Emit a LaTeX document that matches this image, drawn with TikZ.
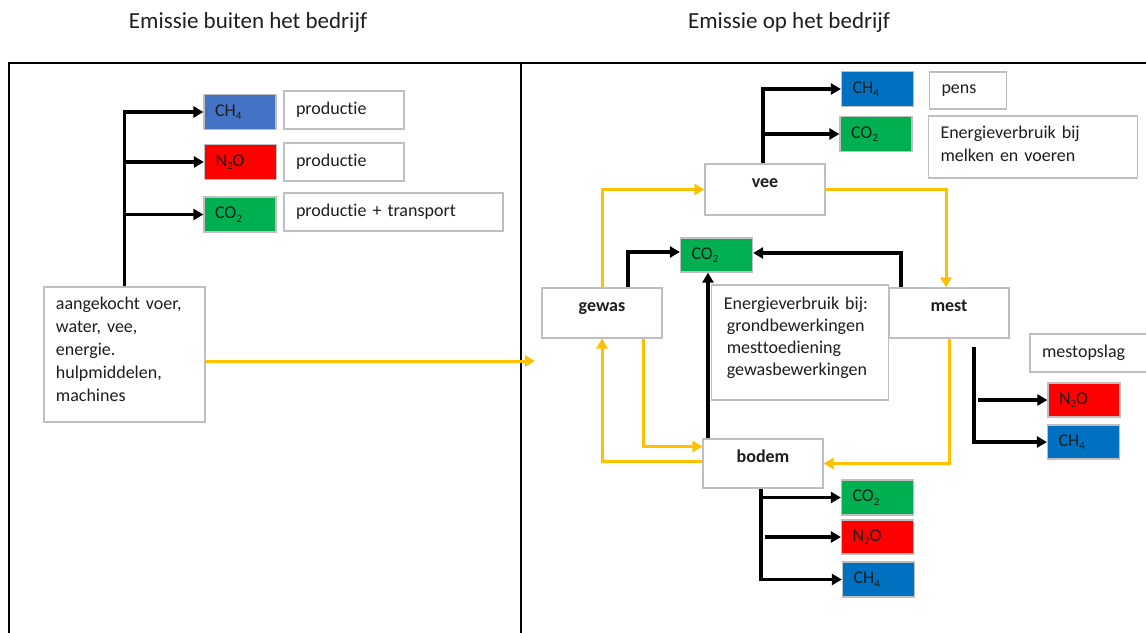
\documentclass[tikz,border=0pt]{standalone}
\usepackage{fontspec}
\setmainfont{Carlito}[Ligatures=NoCommon]
\usetikzlibrary{arrows.meta}
\definecolor{boxline}{HTML}{BFBFBF}
\definecolor{ylw}{HTML}{FFC000}
\definecolor{lblue}{HTML}{4472C4}
\definecolor{dblue}{HTML}{0070C0}
\definecolor{gred}{HTML}{FF0000}
\definecolor{ggreen}{HTML}{00B050}
\definecolor{ink}{HTML}{1E1E1E}
\newcommand{\gsub}[1]{\raisebox{-3.5pt}{\fontsize{11}{11}\selectfont #1}}
\tikzset{
  base/.style={draw=boxline, line width=1.2pt, inner sep=0pt, text=ink,
    font=\fontsize{18}{23}\selectfont},
  gas/.style={base, fill=#1, minimum height=35pt, text width=50pt,
    inner xsep=11pt, align=left},
  note/.style={base, fill=white, align=left, inner xsep=12pt},
  stage/.style={base, fill=white, minimum width=120pt, inner ysep=0pt,
    text height=23pt, font=\fontsize{18}{23}\selectfont\bfseries},
  heading/.style={text=ink, font=\fontsize{23}{28}\selectfont},
  panel/.style={draw=black, line width=2pt},
  arr/.style={draw=black, line width=3.2pt, -{Triangle[length=10pt,width=11pt]}},
  yarr/.style={draw=ylw, line width=3pt, -{Triangle[length=10pt,width=11pt]}}
}
\begin{document}
\begin{tikzpicture}[x=1pt,y=-1pt]
\useasboundingbox (0,0) rectangle (1146,632);

% headings and panel frame
\node[heading] (hout) at (248,22) {Emissie buiten het bedrijf};
\node[heading] (hin) at (789,22) {Emissie op het bedrijf};
\draw[panel] (1150,63) -- (9,63) -- (9,640);
\draw[panel] (521,63) -- (521,640);

% ---- emissions outside the farm ----
\node[gas=lblue] (ch4L) at (240,112) {CH\gsub{4}};
\node[gas=gred] (n2oL) at (240.5,162) {N\gsub{2}O};
\node[gas=ggreen] (co2L) at (240,214.5) {CO\gsub{2}};
\node[note, text width=96pt, minimum height=38pt] (prod1) at (344,110) {productie};
\node[note, text width=96pt, minimum height=38pt] (prod2) at (344,162) {productie};
\node[note, text width=195pt, minimum height=38pt] (prodT) at (393.5,212) {productie + transport};
\node[note, text width=137pt, inner ysep=0pt, text height=22pt, text depth=113pt] (buy)
  at (124.4,354.5) {aangekocht voer,\\water, vee,\\energie.\\hulpmiddelen,\\machines};
\coordinate (entry) at (535,361);

\draw[arr] (buy.north) |- (ch4L.west);
\draw[arr] (buy.north |- n2oL.west) -- (n2oL.west);
\draw[arr] (buy.north |- co2L.west) -- (co2L.west);
\draw[yarr] ([yshift=-6.5pt]buy.east) -- (entry);

% ---- emissions on the farm ----
\node[gas=dblue] (ch4V) at (877.5,89) {CH\gsub{4}};
\node[gas=ggreen] (co2V) at (876,134) {CO\gsub{2}};
\node[note, text width=53pt, minimum height=37pt] (pens) at (968,90.5) {pens};
\node[note, text width=185pt, inner ysep=0pt, text height=22pt, text depth=40pt] (melk)
  at (1033,147) {Energieverbruik bij\\melken en voeren};

\node[stage, text depth=28pt] (vee) at (765,189.5) {vee};
\node[gas=ggreen, minimum height=34pt] (co2M) at (716.5,255) {CO\gsub{2}};
\node[stage, text depth=27pt] (gewas) at (602,313) {gewas};
\node[stage, text depth=27pt] (mest) at (949,313) {mest};
\node[note, text width=153pt, inner ysep=0pt, text height=24pt, text depth=91pt,
  font=\fontsize{18}{22}\selectfont] (energy) at (800.3,342.5)
  {Energieverbruik bij:\\\hspace*{3pt}grondbewerkingen\\\hspace*{3pt}mesttoediening\\\hspace*{3pt}gewasbewerkingen};
\node[stage, text depth=26pt] (bodem) at (763,463.5) {bodem};

\node[note, text width=106pt, minimum height=38pt] (opslag) at (1095,353) {mestopslag};
\node[gas=gred, minimum height=34pt] (n2oM) at (1084,400) {N\gsub{2}O};
\node[gas=dblue, minimum height=34pt] (ch4M) at (1083.5,442) {CH\gsub{4}};

\node[gas=ggreen] (co2B) at (877.5,497.5) {CO\gsub{2}};
\node[gas=gred, minimum height=34pt] (n2oB) at (877.5,537) {N\gsub{2}O};
\node[gas=dblue] (ch4B) at (878.5,579.5) {CH\gsub{4}};

% livestock emissions
\draw[arr] ([xshift=-2pt]vee.north) |- (ch4V.west);
\draw[arr] ([xshift=-2pt]vee.north |- co2V.west) -- (co2V.west);

% material flows
\draw[yarr] (gewas.north) |- (vee.west);
\draw[yarr] (vee.east) -| ([xshift=-3pt]mest.north);
\draw[yarr] ([xshift=41pt]gewas.south) |- ([yshift=17pt]bodem.west);
\draw[yarr] ([yshift=2pt]bodem.west) -| (gewas.south);
\draw[yarr] (mest.south) |- (bodem.east);

% energy use towards CO2
\draw[arr] ([xshift=26pt]gewas.north) |- ([yshift=3pt]co2M.west);
\draw[arr] ([xshift=-48pt]mest.north) |- ([yshift=2pt]co2M.east);
\coordinate (bup) at ([xshift=-55pt]bodem.north);
\draw[arr] (bup) -- (bup |- co2M.south);

% manure storage emissions
\coordinate (mt) at ([xshift=25pt,yshift=-8pt]mest.south);
\coordinate (mt2) at ([xshift=4pt]mt);
\draw[arr] (mt) |- (ch4M.west);
\draw[arr] (mt2 |- n2oM.west) -- (n2oM.west);

% soil emissions
\coordinate (bt) at ([xshift=-2pt]bodem.south);
\coordinate (bt2) at ([xshift=2pt]bodem.south);
\draw[arr] (bt) |- (ch4B.west);
\draw[arr] (bt |- co2B.west) -- (co2B.west);
\draw[arr] (bt2 |- n2oB.west) -- (n2oB.west);
\end{tikzpicture}
\end{document}
